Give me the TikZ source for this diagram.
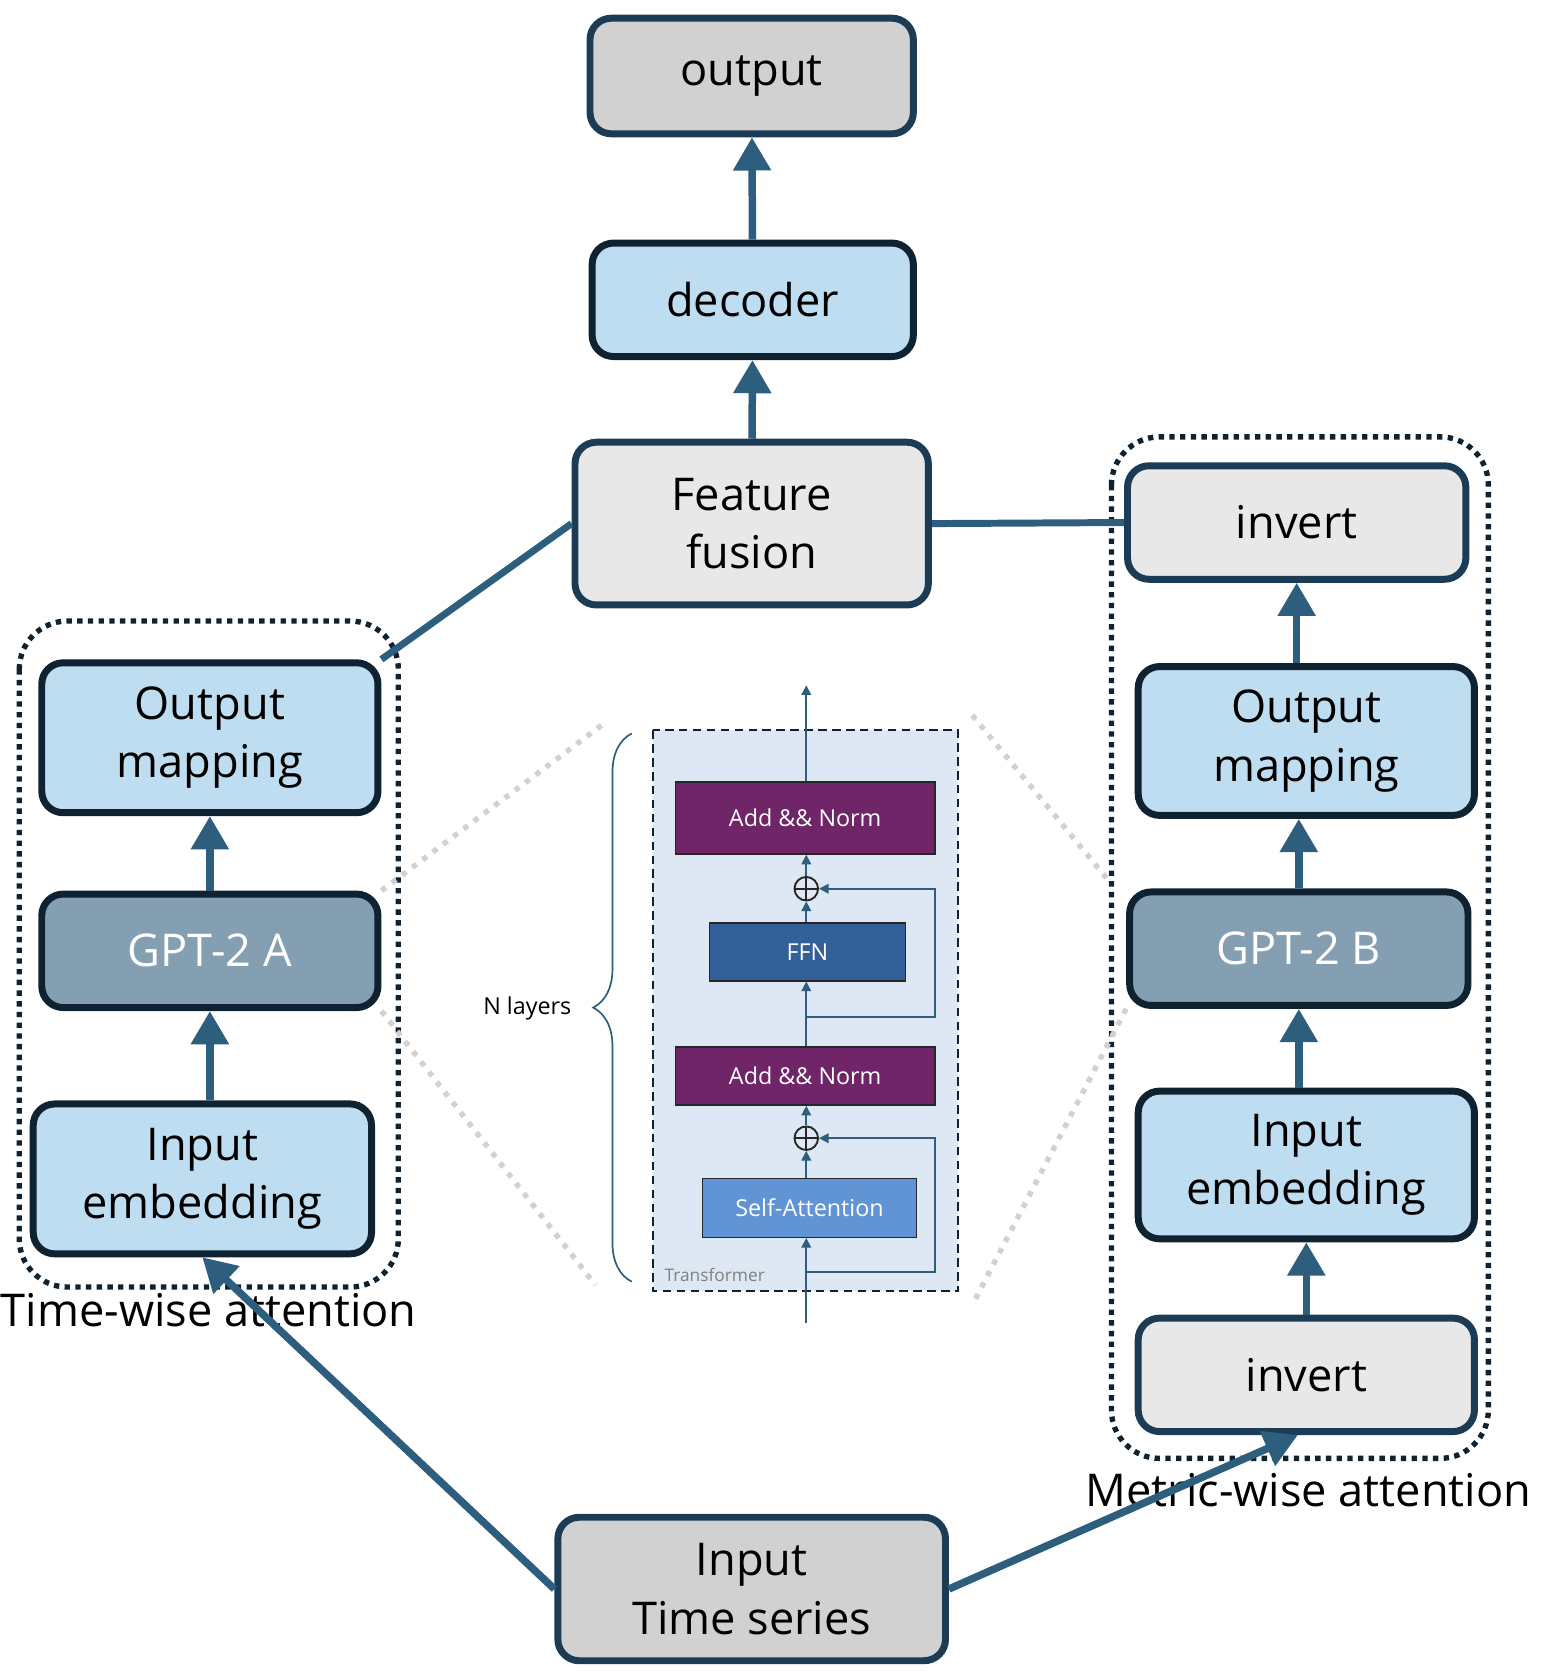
\documentclass[tikz,border=0pt]{standalone}
\usepackage{fontspec}
\setmainfont{Open Sans}
\usetikzlibrary{arrows.meta,decorations.pathreplacing}
\definecolor{CInk}{HTML}{0F2232}
\definecolor{CNavy}{HTML}{1B3C54}
\definecolor{CFlow}{HTML}{2E5E7E}
\definecolor{CBlueLight}{HTML}{BEDDF0}
\definecolor{CGrayMid}{HTML}{D1D1D1}
\definecolor{CGrayLight}{HTML}{E8E8E8}
\definecolor{CGpt}{HTML}{849FB2}
\definecolor{CPurple}{HTML}{6F2568}
\definecolor{CFfn}{HTML}{34609A}
\definecolor{CAttn}{HTML}{6094D4}
\definecolor{CInset}{HTML}{DEE8F4}

\begin{document}
\begin{tikzpicture}[x=0.1mm, y=-0.1mm,
    blk/.style={line width=0.65mm, rounded corners=2mm, align=center, inner sep=0pt,
      font=\fontsize{12}{15.5}\selectfont},
    gbox/.style={blk, draw=CNavy, fill=CGrayLight},
    bbox/.style={blk, draw=CInk, fill=CBlueLight},
    gptbox/.style={blk, draw=CInk, fill=CGpt, text=white},
    grp/.style={draw=CInk, line width=0.5mm, dash pattern=on 0.5mm off 0.5mm, rounded corners=4.5mm},
    flow/.style={draw=CFlow, line width=0.7mm, -{Triangle[width=3.4mm,length=3.1mm]}},
    link/.style={draw=CFlow, line width=0.65mm},
    zoomline/.style={draw=CGrayMid, line width=0.5mm, dash pattern=on 0.5mm off 0.7mm},
    layer/.style={draw=black!85, line width=0.4pt, text=white, inner sep=0pt,
      font=\fontsize{6.2}{7}\selectfont},
    res/.style={draw=CFlow, line width=0.45pt, -{Triangle[width=0.9mm,length=0.9mm]}},
    oplus/.style={circle, draw=black!85, line width=0.5pt, minimum size=2.2mm, inner sep=0pt,
      path picture={
        \draw[black!85, line width=0.5pt] (path picture bounding box.north) -- (path picture bounding box.south);
        \draw[black!85, line width=0.5pt] (path picture bounding box.west) -- (path picture bounding box.east);
    }}
]
  \useasboundingbox (0,0) rectangle (1440,1569);

  % zoom guides
  \coordinate (zA1) at (565,675);
  \coordinate (zA2) at (556,1200);
  \coordinate (zB1) at (908,668);
  \coordinate (zB2) at (909,1217);
  \coordinate (zB3) at (1035,822);

  % transformer inset
  \draw[CInk, line width=0.2mm, dash pattern=on 0.8mm off 0.5mm, fill=CInset] (610,682) rectangle (895,1206);
  \node[anchor=west, inner sep=0pt, text=black!50, font=\fontsize{4.6}{5}\selectfont] (trf) at (620,1191) {Transformer};
  \node[layer, fill=CPurple, minimum width=24.2mm, minimum height=6.7mm] (anT) at (752,764) {Add \&\& Norm};
  \node[oplus] (plus1) at (753,830) {};
  \node[layer, fill=CFfn, minimum width=18.3mm, minimum height=5.4mm] (ffn) at (754,889) {FFN};
  \node[layer, fill=CPurple, minimum width=24.2mm, minimum height=5.4mm] (anB) at (752,1005) {Add \&\& Norm};
  \node[oplus] (plus2) at (753,1063) {};
  \node[layer, fill=CAttn, minimum width=20mm, minimum height=5.5mm] (sa) at (756,1128) {Self-Attention};
  \coordinate (in) at (753,1236);
  \coordinate (top) at (753,640);
  \coordinate (br2) at (753,1188);
  \coordinate (br1) at (753,950);
  \draw[res] (in) -- (in |- sa.south);
  \draw[res] (br2) -- ++(120,0) |- (plus2.east);
  \draw[res] (in |- sa.north) -- (plus2.south);
  \draw[res] (plus2.north) -- (in |- anB.south);
  \draw[res] (in |- anB.north) -- (in |- ffn.south);
  \draw[res] (br1) -- ++(120,0) |- (plus1.east);
  \draw[res] (in |- ffn.north) -- (plus1.south);
  \draw[res] (plus1.north) -- (in |- anT.south);
  \draw[res] (in |- anT.north) -- (top);
  \draw[CFlow, line width=0.45pt, decorate, decoration={brace, amplitude=3.6mm, aspect=0.5}] (590,1197) -- (590,685);
  \node[anchor=east, font=\fontsize{6.2}{7}\selectfont] (nl) at (546,942) {N layers};

  % groups
  \draw[grp] (18,580) rectangle (372,1202);
  \draw[grp] (1038,408) rectangle (1390,1362);

  % boxes
  \node[gbox, fill=CGrayMid, minimum width=30.2mm, minimum height=10.8mm] (out) at (702,71) {output};
  \node[bbox, minimum width=30mm, minimum height=10.6mm] (dec) at (703,280) {decoder};
  \node[gbox, minimum width=33mm, minimum height=15.2mm] (fus) at (702,489) {Feature\\fusion};
  \node[bbox, minimum width=31.4mm, minimum height=14mm] (omA) at (196,689) {Output\\mapping};
  \node[gptbox, minimum width=31.4mm, minimum height=10.6mm] (gptA) at (196,888) {GPT-2 A};
  \node[bbox, minimum width=31.6mm, minimum height=14mm] (ieA) at (189,1101) {Input\\embedding};
  \node[gbox, minimum width=31.6mm, minimum height=10.6mm] (invT) at (1211,488) {invert};
  \node[bbox, minimum width=31.4mm, minimum height=13.9mm] (omB) at (1220,692) {Output\\mapping};
  \node[gptbox, minimum width=31.6mm, minimum height=10.6mm] (gptB) at (1213,886) {GPT-2 B};
  \node[bbox, minimum width=31.4mm, minimum height=13.8mm] (ieB) at (1220,1088) {Input\\embedding};
  \node[gbox, minimum width=31.4mm, minimum height=10.6mm] (invB) at (1220,1284) {invert};
  \node[gbox, fill=CGrayMid, minimum width=36.2mm, minimum height=13.4mm] (ts) at (702,1484) {Input\\Time series};

  \node[font=\fontsize{12}{15.5}\selectfont] (lblA) at (195,1224) {Time-wise attention};
  \node[font=\fontsize{12}{15.5}\selectfont] (lblB) at (1222,1392) {Metric-wise attention};

  \draw[zoomline] (gptA.north east) -- (zA1);
  \draw[zoomline] (gptA.south east) -- (zA2);
  \draw[zoomline] (zB1) -- (zB3);
  \draw[zoomline] (gptB.south west) -- (zB2);

  % connectors
  \draw[flow] (dec) -- (out);
  \draw[flow] (fus) -- (dec);
  \draw[flow] (gptA) -- (omA);
  \draw[flow] (ieA.north -| gptA) -- (gptA);
  \draw[flow] (omB.north -| invT) -- (invT);
  \draw[flow] (gptB) -- (omB.south -| gptB);
  \draw[flow] (ieB.north -| gptB) -- (gptB);
  \draw[flow] (invB) -- (ieB);
  \draw[link] (omA.north east) -- (fus.west);
  \draw[link] (fus.east) -- (invT.west);
  \draw[flow] (ts.west) -- (ieA.south);
  \draw[flow] (ts.east) -- ([xshift=-0.8mm]invB.south);
\end{tikzpicture}
\end{document}
